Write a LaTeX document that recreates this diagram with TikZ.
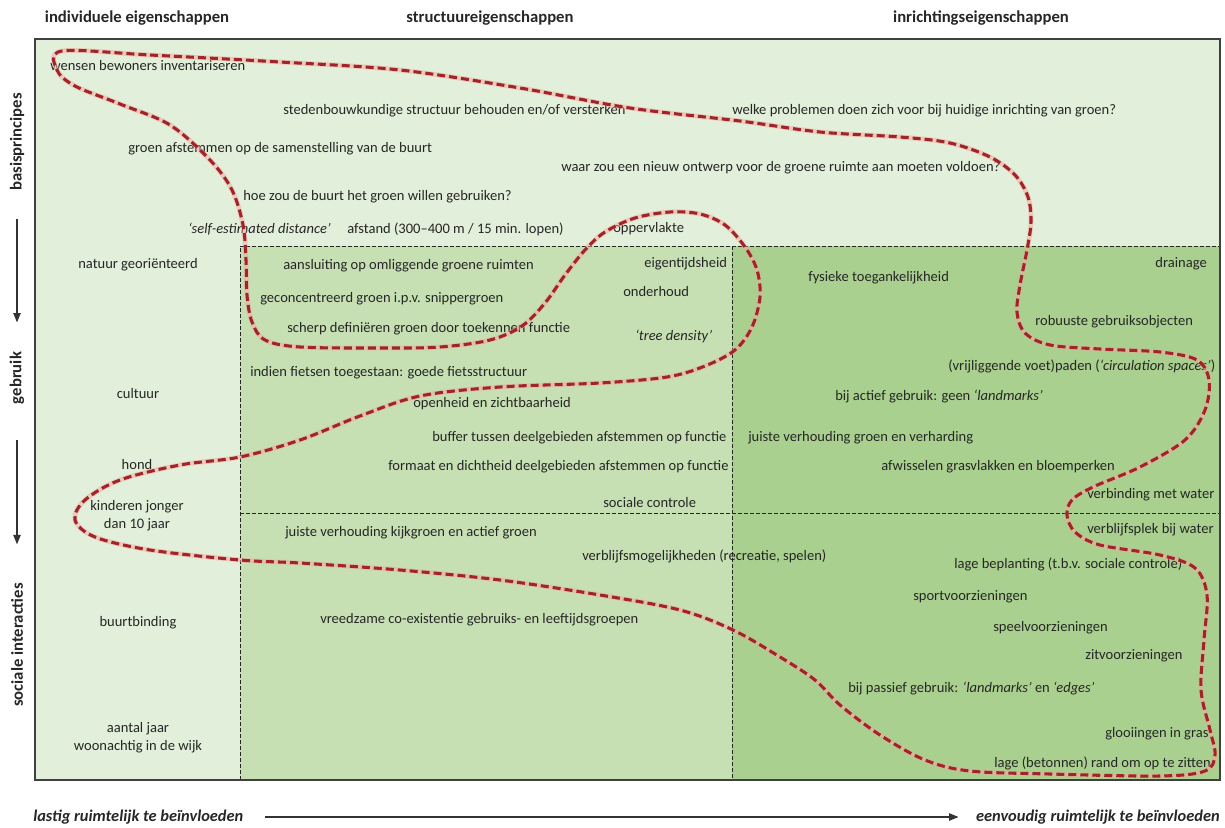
\documentclass[tikz,border=0pt]{standalone}
\usepackage{fontspec}
\setmainfont{Carlito}
\usetikzlibrary{arrows.meta}
\definecolor{pale}{HTML}{E2EFDA}
\definecolor{mid}{HTML}{C6E0B4}
\definecolor{deep}{HTML}{A9D08E}
\definecolor{loopred}{HTML}{A3232A}
\definecolor{glow}{HTML}{F2A79C}
\newcommand{\loopcoords}{(62,51) (150,55) (280,62) (400,70) (520,88) (630,108) (740,121) (820,132) (900,137) (950,143) (990,157) (1015,175) (1028,197) (1031,222) (1027,250) (1020,285) (1017,312) (1025,333) (1050,345) (1100,349) (1160,352) (1197,360) (1209,380) (1205,410) (1185,440) (1140,467) (1093,487) (1072,500) (1067,515) (1075,532) (1100,545) (1160,555) (1195,568) (1207,595) (1204,640) (1201,690) (1210,730) (1215,755) (1205,771) (1160,776) (1050,774) (970,771) (925,760) (880,735) (840,705) (815,680) (780,657) (733,630) (680,610) (600,595) (500,580) (400,570) (300,563) (240,560) (150,550) (95,537) (75,520) (85,500) (120,480) (180,465) (240,457) (300,440) (360,416) (420,396) (500,387) (600,383) (667,377) (705,366) (735,350) (752,327) (760,297) (757,270) (745,247) (725,225) (700,214) (670,212) (635,218) (605,232) (585,250) (565,275) (545,303) (522,326) (490,340) (440,347) (380,348) (300,347) (265,340) (252,322) (247,295) (246,260) (243,225) (232,190) (210,160) (170,125) (120,104) (75,86) (57,70)}

\begin{document}
\begin{tikzpicture}[x=0.75pt,y=-0.75pt,
  txt/.style={anchor=west,inner sep=0pt,text=black!85,font=\fontsize{10.9}{13}\selectfont},
  ctr/.style={inner sep=0pt,align=center,text=black!85,font=\fontsize{10.9}{13.5}\selectfont},
  head/.style={inner sep=0pt,text=black!85,font=\fontsize{12.5}{15}\selectfont\bfseries},
  side/.style={head,rotate=90},
  foot/.style={inner sep=0pt,text=black!85,font=\fontsize{12.3}{15}\selectfont\bfseries\itshape},
  grid/.style={black!85,line width=0.65pt,dash pattern=on 3pt off 1.5pt},
  arr/.style={-{Triangle[length=7pt,width=5.5pt]},line width=0.9pt,black!80}]
  \useasboundingbox (0,0) rectangle (1225,828);

  % fields
  \fill[pale] (35,39) rectangle (1220,780);
  \fill[mid] (240,246) rectangle (732,780);
  \fill[deep] (732,246) rectangle (1220,780);
  \draw[grid] (240,780) -- (240,246) -- (1220,246);
  \draw[grid] (732,246) -- (732,780);
  \draw[grid] (240,513) -- (1220,513);
  \draw[black!75,line width=1.1pt] (35,39) rectangle (1220,780);

  % headers
  \node[head] (hind) at (137,18) {individuele eigenschappen};
  \node[head] (hstr) at (490,18) {structuureigenschappen};
  \node[head] (hinr) at (981,18) {inrichtingseigenschappen};
  \node[side] (basis) at (17,142) {basisprincipes};
  \node[side] (gebr) at (17,378) {gebruik};
  \node[side] (soc) at (17,645) {sociale interacties};
  \draw[arr] ([yshift=-21pt]basis.west) -- ([yshift=22pt]gebr.east);
  \draw[arr] ([yshift=-27pt]gebr.west) -- ([yshift=29pt]soc.east);

  % basisprincipes
  \node[txt] (wens) at (50,66) {wensen bewoners inventariseren};
  \node[txt] (sted) at (283,111) {stedenbouwkundige structuur behouden en/of versterken};
  \node[txt] (prob) at (732,111) {welke problemen doen zich voor bij huidige inrichting van groen?};
  \node[txt] (afst) at (128,149) {groen afstemmen op de samenstelling van de buurt};
  \node[txt] (ontw) at (561,168) {waar zou een nieuw ontwerp voor de groene ruimte aan moeten voldoen?};
  \node[txt] (hoe) at (243,197) {hoe zou de buurt het groen willen gebruiken?};
  \node[txt] (self) at (188,229) {\textit{`self-estimated distance'}};
  \node[txt] (afsd) at (347,229) {afstand (300--400 m / 15 min. lopen)};
  \node[txt] (opp) at (613,229) {oppervlakte};

  % individuele eigenschappen
  \node[ctr] (nat) at (138,265) {natuur georiënteerd};
  \node[ctr] (cult) at (138,394) {cultuur};
  \node[ctr] (hond) at (137,464) {hond};
  \node[ctr] (kind) at (137,516) {kinderen jonger\\dan 10 jaar};
  \node[ctr] (buur) at (138,623) {buurtbinding};
  \node[ctr] (jaar) at (138,738) {aantal jaar\\woonachtig in de wijk};

  % structuureigenschappen
  \node[txt] (aans) at (283,266) {aansluiting op omliggende groene ruimten};
  \node[txt] (conc) at (260,299) {geconcentreerd groen i.p.v. snippergroen};
  \node[txt] (scher) at (287,329) {scherp definiëren groen door toekennen functie};
  \node[txt] (fiets) at (250,373) {indien fietsen toegestaan: goede fietsstructuur};
  \node[txt] (eigen) at (644,264) {eigentijdsheid};
  \node[txt] (ond) at (623,292) {onderhoud};
  \node[txt] (tree) at (635,336) {\textit{`tree density'}};
  \node[txt] (open) at (413,404) {openheid en zichtbaarheid};
  \node[txt] (buff) at (432,438) {buffer tussen deelgebieden afstemmen op functie};
  \node[txt] (form) at (388,467) {formaat en dichtheid deelgebieden afstemmen op functie};
  \node[txt] (contr) at (603,503) {sociale controle};
  \node[txt] (kijk) at (285,533) {juiste verhouding kijkgroen en actief groen};
  \node[txt] (verb) at (582,556) {verblijfsmogelijkheden (recreatie, spelen)};
  \node[txt] (vree) at (320,620) {vreedzame co-existentie gebruiks- en leeftijdsgroepen};

  % inrichtingseigenschappen
  \node[txt,anchor=east] (drain) at (1207,264) {drainage};
  \node[txt] (fys) at (808,278) {fysieke toegankelijkheid};
  \node[txt] (rob) at (1035,322) {robuuste gebruiksobjecten};
  \node[txt] (pad) at (948,366) {(vrijliggende voet)paden (\textit{`circulation spaces'})};
  \node[txt] (act) at (835,397) {bij actief gebruik: geen \textit{`landmarks'}};
  \node[txt] (verh) at (748,438) {juiste verhouding groen en verharding};
  \node[txt] (afw) at (881,467) {afwisselen grasvlakken en bloemperken};
  \node[txt] (wat) at (1087,495) {verbinding met water};
  \node[txt] (plek) at (1087,530) {verblijfsplek bij water};
  \node[txt] (lage) at (954,564) {lage beplanting (t.b.v. sociale controle)};
  \node[txt] (sport) at (913,597) {sportvoorzieningen};
  \node[txt] (speel) at (993,628) {speelvoorzieningen};
  \node[txt] (zit) at (1085,656) {zitvoorzieningen};
  \node[txt] (pas) at (848,689) {bij passief gebruik: \textit{`landmarks'} en \textit{`edges'}};
  \node[txt] (gloo) at (1105,734) {glooiingen in gras};
  \node[txt] (rand) at (994,763) {lage (betonnen) rand om op te zitten};

  % grens
  \draw[glow,line width=3.6pt,opacity=0.5] plot[smooth cycle,tension=0.55] coordinates {\loopcoords};
  \draw[loopred,line width=2.3pt,dash pattern=on 6pt off 3pt] plot[smooth cycle,tension=0.55] coordinates {\loopcoords};

  % as
  \node[foot,anchor=west] (last) at (33,817) {lastig ruimtelijk te beïnvloeden};
  \node[foot,anchor=east] (eenv) at (1220,817) {eenvoudig ruimtelijk te beïnvloeden};
  \draw[arr] ([xshift=16pt]last.east) -- ([xshift=-13pt]eenv.west);
\end{tikzpicture}
\end{document}
